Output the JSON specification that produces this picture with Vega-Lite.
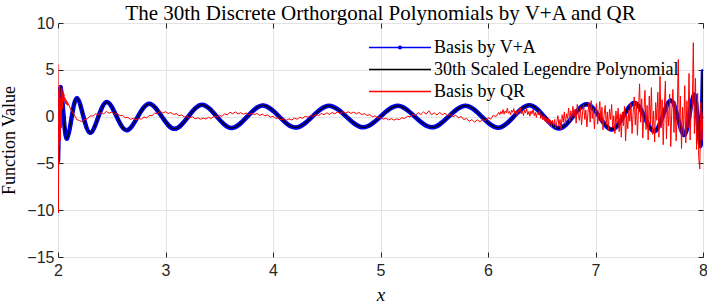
{
  "$schema": "https://vega.github.io/schema/vega-lite/v6.json",
  "autosize": {"type": "none"},
  "padding": {"left": 58, "top": 23, "right": 4, "bottom": 49},
  "width": 645,
  "height": 234,
  "background": "white",
  "title": {"text": "The 30th Discrete Orthorgonal Polynomials by V+A and QR", "font": "Liberation Serif", "fontSize": 21, "fontWeight": "normal", "color": "#000000", "anchor": "middle", "offset": 5, "baseline": "alphabetic", "dy": 31},
  "config": {
    "view": {"stroke": "#262626", "strokeWidth": 1},
    "axis": {"labelFont": "Liberation Sans", "labelFontSize": 16, "labelColor": "#262626", "tickColor": "#262626", "gridColor": "#e3e3e3", "gridWidth": 1, "domain": false, "tickSize": -5, "titleFont": "Liberation Serif", "titleFontWeight": "normal", "titleColor": "#000000", "titleFontSize": 18, "labelFlush": false}
  },
  "datasets": {
    "leg": [
      {"x": 2, "y": -4.8}, {"x": 2.01, "y": 0}, {"x": 2.0253, "y": 3.15}, {"x": 2.0524, "y": 0}, {"x": 2.0844, "y": -2.35}, {"x": 2.1282, "y": 0}, {"x": 2.1767, "y": 1.97}, {"x": 2.2365, "y": 0}, {"x": 2.3009, "y": -1.73}, {"x": 2.3761, "y": 0}, {"x": 2.4555, "y": 1.57}, {"x": 2.5455, "y": 0}, {"x": 2.6392, "y": -1.46}, {"x": 2.7427, "y": 0}, {"x": 2.8494, "y": 1.37}, {"x": 2.9657, "y": 0}, {"x": 3.0842, "y": -1.31}, {"x": 3.2114, "y": 0}, {"x": 3.3404, "y": 1.26}, {"x": 3.4774, "y": 0}, {"x": 3.6158, "y": -1.22}, {"x": 3.7607, "y": 0}, {"x": 3.9064, "y": 1.19}, {"x": 4.0581, "y": 0}, {"x": 4.2097, "y": -1.17}, {"x": 4.3662, "y": 0}, {"x": 4.5217, "y": 1.15}, {"x": 4.6814, "y": 0}, {"x": 4.8396, "y": -1.15}, {"x": 5, "y": 0}, {"x": 5.1604, "y": 1.15}, {"x": 5.3186, "y": 0}, {"x": 5.4783, "y": -1.15}, {"x": 5.6338, "y": 0}, {"x": 5.7903, "y": 1.17}, {"x": 5.9419, "y": 0}, {"x": 6.0936, "y": -1.19}, {"x": 6.2393, "y": 0}, {"x": 6.3842, "y": 1.22}, {"x": 6.5226, "y": 0}, {"x": 6.6596, "y": -1.26}, {"x": 6.7886, "y": 0}, {"x": 6.9158, "y": 1.31}, {"x": 7.0345, "y": 0}, {"x": 7.1506, "y": -1.37}, {"x": 7.2573, "y": 0}, {"x": 7.3608, "y": 1.46}, {"x": 7.4545, "y": 0}, {"x": 7.5445, "y": -1.57}, {"x": 7.6239, "y": 0}, {"x": 7.6991, "y": 1.73}, {"x": 7.7635, "y": 0}, {"x": 7.8233, "y": -1.97}, {"x": 7.8718, "y": 0}, {"x": 7.9156, "y": 2.35}, {"x": 7.9476, "y": 0}, {"x": 7.9747, "y": -3.15}, {"x": 7.99, "y": 0}, {"x": 8, "y": 4.9}
    ],
    "qr": [
      {"x": 2.000, "y": 5.6}, {"x": 2.004, "y": -10.3}, {"x": 2.008, "y": 2.8}, {"x": 2.012, "y": -3.1}, {"x": 2.016, "y": 3.3}, {"x": 2.020, "y": -2.6}, {"x": 2.025, "y": 2.0}, {"x": 2.030, "y": -1.2}, {"x": 2.035, "y": 3.0}, {"x": 2.040, "y": 0.8}, {"x": 2.045, "y": 2.6}, {"x": 2.050, "y": 1.6}, {"x": 2.055, "y": 2.4}, {"x": 2.060, "y": 1.7}, {"x": 2.065, "y": 2.0}, {"x": 2.070, "y": 1.4}, {"x": 2.075, "y": 1.8}, {"x": 2.080, "y": 1.3}, {"x": 2.085, "y": 1.6}, {"x": 2.090, "y": 1.2}, {"x": 2.095, "y": 1.4},
      {"x": 2.100, "y": 1.25}, {"x": 2.125, "y": 0.62}, {"x": 2.150, "y": 0.2}, {"x": 2.175, "y": -0.32}, {"x": 2.200, "y": -0.42}, {"x": 2.225, "y": -0.55}, {"x": 2.250, "y": -0.3}, {"x": 2.275, "y": -0.22}, {"x": 2.300, "y": 0.08}, {"x": 2.325, "y": 0.06}, {"x": 2.350, "y": 0.3}, {"x": 2.375, "y": 0.18}, {"x": 2.400, "y": 0.42}, {"x": 2.425, "y": 0.3}, {"x": 2.450, "y": 0.55}, {"x": 2.475, "y": 0.36}, {"x": 2.500, "y": 0.48}, {"x": 2.525, "y": 0.25}, {"x": 2.550, "y": 0.33}, {"x": 2.575, "y": 0.1}, {"x": 2.600, "y": 0.12}, {"x": 2.625, "y": -0.12}, {"x": 2.650, "y": -0.08}, {"x": 2.675, "y": -0.3}, {"x": 2.700, "y": -0.18}, {"x": 2.725, "y": -0.35}, {"x": 2.750, "y": -0.2}, {"x": 2.775, "y": -0.28}, {"x": 2.800, "y": -0.05}, {"x": 2.825, "y": -0.14}, {"x": 2.850, "y": 0.12}, {"x": 2.875, "y": 0.1}, {"x": 2.900, "y": 0.38}, {"x": 2.925, "y": 0.3}, {"x": 2.950, "y": 0.56}, {"x": 2.975, "y": 0.38}, {"x": 3.000, "y": 0.52}, {"x": 3.025, "y": 0.33}, {"x": 3.050, "y": 0.44}, {"x": 3.075, "y": 0.22}, {"x": 3.100, "y": 0.32}, {"x": 3.125, "y": 0.1}, {"x": 3.150, "y": 0.18}, {"x": 3.175, "y": -0.04}, {"x": 3.200, "y": 0.07}, {"x": 3.225, "y": -0.13}, {"x": 3.250, "y": -0.02}, {"x": 3.275, "y": -0.24}, {"x": 3.300, "y": -0.12}, {"x": 3.325, "y": -0.28}, {"x": 3.350, "y": -0.15}, {"x": 3.375, "y": -0.26}, {"x": 3.400, "y": -0.08}, {"x": 3.425, "y": -0.2}, {"x": 3.450, "y": 0.04}, {"x": 3.475, "y": -0.06}, {"x": 3.500, "y": 0.14}, {"x": 3.525, "y": 0.03}, {"x": 3.550, "y": 0.3}, {"x": 3.575, "y": 0.18}, {"x": 3.600, "y": 0.48}, {"x": 3.625, "y": 0.3}, {"x": 3.650, "y": 0.5}, {"x": 3.675, "y": 0.28}, {"x": 3.700, "y": 0.42}, {"x": 3.725, "y": 0.25}, {"x": 3.750, "y": 0.38}, {"x": 3.775, "y": 0.2}, {"x": 3.800, "y": 0.36}, {"x": 3.825, "y": 0.22}, {"x": 3.850, "y": 0.33}, {"x": 3.875, "y": 0.12}, {"x": 3.900, "y": 0.27}, {"x": 3.925, "y": 0.08}, {"x": 3.950, "y": 0.18}, {"x": 3.975, "y": -0.06}, {"x": 4.000, "y": 0.03}, {"x": 4.025, "y": -0.2}, {"x": 4.050, "y": -0.12}, {"x": 4.075, "y": -0.34}, {"x": 4.100, "y": -0.22}, {"x": 4.125, "y": -0.38}, {"x": 4.150, "y": -0.24}, {"x": 4.175, "y": -0.36}, {"x": 4.200, "y": -0.16}, {"x": 4.225, "y": -0.28}, {"x": 4.250, "y": -0.08}, {"x": 4.275, "y": -0.18}, {"x": 4.300, "y": 0.04}, {"x": 4.325, "y": -0.07}, {"x": 4.350, "y": 0.12}, {"x": 4.375, "y": 0.02}, {"x": 4.400, "y": 0.24}, {"x": 4.425, "y": 0.12}, {"x": 4.450, "y": 0.34}, {"x": 4.475, "y": 0.2}, {"x": 4.500, "y": 0.4}, {"x": 4.525, "y": 0.24}, {"x": 4.550, "y": 0.44}, {"x": 4.575, "y": 0.3}, {"x": 4.600, "y": 0.5}, {"x": 4.625, "y": 0.34}, {"x": 4.650, "y": 0.55}, {"x": 4.675, "y": 0.36}, {"x": 4.700, "y": 0.52}, {"x": 4.725, "y": 0.34}, {"x": 4.750, "y": 0.48}, {"x": 4.775, "y": 0.3}, {"x": 4.800, "y": 0.44}, {"x": 4.825, "y": 0.22}, {"x": 4.850, "y": 0.32}, {"x": 4.875, "y": 0.12}, {"x": 4.900, "y": 0.22}, {"x": 4.925, "y": -0.02}, {"x": 4.950, "y": 0.08}, {"x": 4.975, "y": -0.16}, {"x": 5.000, "y": -0.06}, {"x": 5.025, "y": -0.28}, {"x": 5.050, "y": -0.18}, {"x": 5.075, "y": -0.36}, {"x": 5.100, "y": -0.22}, {"x": 5.125, "y": -0.38}, {"x": 5.150, "y": -0.24}, {"x": 5.175, "y": -0.32}, {"x": 5.200, "y": -0.12}, {"x": 5.225, "y": -0.2}, {"x": 5.250, "y": 0.04}, {"x": 5.275, "y": -0.03}, {"x": 5.300, "y": 0.24}, {"x": 5.325, "y": 0.12}, {"x": 5.350, "y": 0.42}, {"x": 5.375, "y": 0.22}, {"x": 5.400, "y": 0.5}, {"x": 5.425, "y": 0.26}, {"x": 5.450, "y": 0.62}, {"x": 5.475, "y": 0.2}, {"x": 5.500, "y": 0.4}, {"x": 5.525, "y": 0.18}, {"x": 5.550, "y": 0.45}, {"x": 5.575, "y": 0.2}, {"x": 5.600, "y": 0.36}, {"x": 5.625, "y": 0.08}, {"x": 5.650, "y": 0.28}, {"x": 5.675, "y": -0.02}, {"x": 5.700, "y": 0.16}, {"x": 5.725, "y": -0.14}, {"x": 5.750, "y": 0.02}, {"x": 5.775, "y": -0.34}, {"x": 5.800, "y": -0.18}, {"x": 5.825, "y": -0.52}, {"x": 5.850, "y": -0.32}, {"x": 5.875, "y": -0.6}, {"x": 5.900, "y": -0.34}, {"x": 5.925, "y": -0.56}, {"x": 5.950, "y": -0.28}, {"x": 5.975, "y": -0.45}, {"x": 6.000, "y": -0.1}, {"x": 6.025, "y": -0.28}, {"x": 6.050, "y": 0.15}, {"x": 6.075, "y": 0.0}, {"x": 6.100, "y": 0.45},
      {"x": 6.11, "y": 0.2}, {"x": 6.12, "y": 0.55}, {"x": 6.13, "y": 0.3}, {"x": 6.14, "y": 0.75}, {"x": 6.15, "y": 0.25}, {"x": 6.16, "y": 0.6}, {"x": 6.17, "y": 0.4}, {"x": 6.18, "y": 0.9}, {"x": 6.19, "y": 0.35}, {"x": 6.20, "y": 0.55}, {"x": 6.21, "y": 0.2}, {"x": 6.22, "y": 0.7}, {"x": 6.23, "y": 0.45}, {"x": 6.24, "y": 0.85}, {"x": 6.25, "y": 0.3}, {"x": 6.26, "y": 0.6}, {"x": 6.27, "y": 0.15}, {"x": 6.28, "y": 0.75}, {"x": 6.29, "y": 0.5}, {"x": 6.30, "y": 0.95}, {"x": 6.31, "y": 0.3}, {"x": 6.32, "y": 0.6}, {"x": 6.33, "y": 0.1}, {"x": 6.34, "y": 0.7}, {"x": 6.35, "y": 0.4}, {"x": 6.36, "y": 0.85}, {"x": 6.37, "y": 0.2}, {"x": 6.38, "y": 0.55}, {"x": 6.39, "y": 0.05}, {"x": 6.40, "y": 0.6}, {"x": 6.41, "y": 0.3}, {"x": 6.42, "y": 0.8}, {"x": 6.43, "y": 0.1}, {"x": 6.44, "y": 0.45}, {"x": 6.45, "y": -0.1}, {"x": 6.46, "y": 0.5}, {"x": 6.47, "y": 0.2}, {"x": 6.48, "y": 0.65}, {"x": 6.49, "y": -0.2}, {"x": 6.50, "y": 0.25}, {"x": 6.51, "y": -0.35}, {"x": 6.52, "y": 0.1}, {"x": 6.53, "y": -0.5}, {"x": 6.54, "y": -0.1}, {"x": 6.55, "y": -0.7}, {"x": 6.56, "y": -0.2}, {"x": 6.57, "y": -0.9}, {"x": 6.58, "y": -0.35}, {"x": 6.59, "y": -1.1}, {"x": 6.60, "y": -0.4}, {"x": 6.61, "y": -0.95}, {"x": 6.62, "y": -0.3}, {"x": 6.63, "y": -1.2}, {"x": 6.64, "y": -0.6}, {"x": 6.65, "y": 0.1}, {"x": 6.66, "y": -1.0}, {"x": 6.67, "y": -0.3}, {"x": 6.68, "y": -1.4}, {"x": 6.69, "y": 0.2}, {"x": 6.70, "y": -0.6}, {"x": 6.71, "y": 0.5}, {"x": 6.72, "y": -0.8}, {"x": 6.73, "y": 0.3}, {"x": 6.74, "y": -0.2}, {"x": 6.75, "y": 0.9}, {"x": 6.76, "y": -0.5}, {"x": 6.77, "y": 0.6}, {"x": 6.78, "y": -0.1}, {"x": 6.79, "y": 1.1}, {"x": 6.80, "y": 0.0}, {"x": 6.81, "y": 0.8}, {"x": 6.82, "y": -0.7}, {"x": 6.83, "y": 1.3}, {"x": 6.84, "y": 0.2}, {"x": 6.85, "y": -0.4}, {"x": 6.86, "y": 1.0}, {"x": 6.87, "y": -0.9}, {"x": 6.88, "y": 0.5}, {"x": 6.89, "y": 1.2}, {"x": 6.90, "y": -0.3}, {"x": 6.91, "y": 0.7}, {"x": 6.92, "y": -1.1}, {"x": 6.93, "y": 0.4}, {"x": 6.94, "y": 1.5}, {"x": 6.95, "y": -0.6}, {"x": 6.96, "y": 1.7}, {"x": 6.97, "y": -0.2}, {"x": 6.98, "y": 0.9}, {"x": 6.99, "y": -1.3}, {"x": 7.00, "y": 0.6}, {"x": 7.01, "y": 1.4}, {"x": 7.02, "y": -0.8}, {"x": 7.03, "y": 0.3}, {"x": 7.04, "y": 1.6}, {"x": 7.05, "y": -0.5}, {"x": 7.06, "y": 1.0}, {"x": 7.07, "y": -1.4}, {"x": 7.08, "y": 0.2}, {"x": 7.09, "y": 1.2}, {"x": 7.10, "y": -0.9}, {"x": 7.11, "y": 0.5}, {"x": 7.12, "y": -1.5}, {"x": 7.13, "y": 0.8}, {"x": 7.14, "y": -0.3}, {"x": 7.15, "y": 1.3}, {"x": 7.16, "y": -1.2}, {"x": 7.17, "y": 0.1}, {"x": 7.18, "y": -1.8}, {"x": 7.19, "y": 0.6}, {"x": 7.20, "y": -0.7}, {"x": 7.21, "y": 0.9}, {"x": 7.22, "y": -1.6}, {"x": 7.23, "y": 0.3}, {"x": 7.24, "y": -2.2}, {"x": 7.25, "y": 0.5}, {"x": 7.26, "y": -1.0}, {"x": 7.27, "y": 1.1}, {"x": 7.28, "y": -2.6}, {"x": 7.29, "y": 0.2}, {"x": 7.30, "y": -1.3}, {"x": 7.31, "y": 0.7}, {"x": 7.32, "y": -0.5}, {"x": 7.33, "y": 1.4}, {"x": 7.34, "y": -1.8}, {"x": 7.35, "y": 0.4}, {"x": 7.36, "y": 2.1}, {"x": 7.37, "y": -0.9}, {"x": 7.38, "y": 1.6}, {"x": 7.39, "y": -2.0}, {"x": 7.40, "y": 0.8}, {"x": 7.41, "y": 3.5}, {"x": 7.42, "y": -0.6}, {"x": 7.43, "y": 1.9}, {"x": 7.44, "y": -2.3}, {"x": 7.45, "y": 0.5}, {"x": 7.46, "y": 2.8}, {"x": 7.47, "y": -1.4}, {"x": 7.48, "y": 1.2}, {"x": 7.49, "y": -2.5}, {"x": 7.50, "y": 2.2}, {"x": 7.51, "y": -0.8}, {"x": 7.52, "y": 3.1}, {"x": 7.53, "y": -1.9}, {"x": 7.54, "y": 0.6}, {"x": 7.55, "y": -2.7}, {"x": 7.56, "y": 1.5}, {"x": 7.57, "y": -0.4}, {"x": 7.58, "y": 2.6}, {"x": 7.59, "y": -2.2}, {"x": 7.60, "y": 4.3}, {"x": 7.61, "y": -1.2}, {"x": 7.62, "y": 1.8}, {"x": 7.63, "y": -3.0}, {"x": 7.64, "y": 0.9}, {"x": 7.65, "y": 3.8}, {"x": 7.66, "y": -2.4}, {"x": 7.67, "y": 1.3}, {"x": 7.68, "y": -1.0}, {"x": 7.69, "y": 2.4}, {"x": 7.70, "y": -3.2}, {"x": 7.71, "y": 0.7}, {"x": 7.72, "y": 2.9}, {"x": 7.73, "y": -1.7}, {"x": 7.74, "y": 1.6}, {"x": 7.75, "y": -2.6}, {"x": 7.76, "y": 0.4}, {"x": 7.77, "y": 6.1}, {"x": 7.78, "y": -1.5}, {"x": 7.79, "y": 2.2}, {"x": 7.80, "y": -3.4}, {"x": 7.81, "y": 1.0}, {"x": 7.82, "y": -2.0}, {"x": 7.83, "y": 3.3}, {"x": 7.84, "y": -2.8}, {"x": 7.85, "y": 1.7}, {"x": 7.86, "y": -1.2}, {"x": 7.87, "y": 4.6}, {"x": 7.88, "y": -2.5}, {"x": 7.89, "y": 0.8}, {"x": 7.90, "y": 1.0}, {"x": 7.91, "y": 7.9}, {"x": 7.92, "y": -1.8}, {"x": 7.93, "y": 4.1}, {"x": 7.94, "y": -3.5}, {"x": 7.95, "y": 2.5}, {"x": 7.96, "y": -4.3}, {"x": 7.97, "y": -5.6}, {"x": 7.98, "y": 1.5}, {"x": 7.99, "y": -2.5}, {"x": 8.00, "y": 0.5}
    ]
  },
  "layer": [
    {
      "data": {"name": "leg"},
      "mark": {"type": "line", "interpolate": "natural", "strokeWidth": 4.5, "clip": true},
      "encoding": {
        "x": {"field": "x", "type": "quantitative", "scale": {"domain": [2, 8], "nice": false, "zero": false},
              "axis": {"orient": "bottom", "values": [2, 3, 4, 5, 6, 7, 8], "grid": true, "labelPadding": 10, "title": "x", "titleFontStyle": "italic", "titleFontSize": 19, "titlePadding": 7}},
        "y": {"field": "y", "type": "quantitative", "scale": {"domain": [-15, 10], "nice": false, "zero": false},
              "axis": {"orient": "left", "values": [-15, -10, -5, 0, 5, 10], "grid": true, "labelPadding": 9, "title": "Function Value", "titlePadding": 8}},
        "color": {"datum": "Basis by V+A", "type": "nominal",
                  "scale": {"domain": ["Basis by V+A", "30th Scaled Legendre Polynomial", "Basis by QR"], "range": ["#0000f0", "#000000", "#ff0000"]},
                  "legend": {"title": null, "orient": "none", "legendX": 310, "legendY": 15.5, "labelFont": "Liberation Serif", "labelFontSize": 18, "labelColor": "#000000",
                             "symbolType": "M-10,0H10", "symbolSize": 38.44, "symbolStrokeWidth": 1.3, "symbolOffset": 23, "labelOffset": 25, "rowPadding": 4, "labelLimit": 400, "padding": 0,
                             "encode": {"symbols": {"update": {"shape": {"signal": "datum.value === 'Basis by V+A' ? 'M-10,0H10M0.45,0A0.45,0.45,0,1,1,-0.45,0A0.45,0.45,0,1,1,0.45,0' : 'M-10,0H10'"}}}}}}
      }
    },
    {
      "data": {"name": "leg"},
      "mark": {"type": "point", "filled": true, "size": 14, "opacity": 1, "clip": true},
      "encoding": {
        "x": {"field": "x", "type": "quantitative", "axis": null},
        "y": {"field": "y", "type": "quantitative", "axis": null},
        "color": {"value": "#0000f0"}
      }
    },
    {
      "data": {"name": "leg"},
      "mark": {"type": "line", "interpolate": "natural", "strokeWidth": 1.2, "clip": true},
      "encoding": {
        "x": {"field": "x", "type": "quantitative", "axis": null},
        "y": {"field": "y", "type": "quantitative", "axis": null},
        "color": {"datum": "30th Scaled Legendre Polynomial", "type": "nominal"}
      }
    },
    {
      "data": {"name": "qr"},
      "mark": {"type": "line", "strokeWidth": 1, "clip": true},
      "encoding": {
        "x": {"field": "x", "type": "quantitative",
              "axis": {"orient": "top", "values": [2, 3, 4, 5, 6, 7, 8], "grid": false, "labels": false, "title": null}},
        "y": {"field": "y", "type": "quantitative",
              "axis": {"orient": "right", "values": [-15, -10, -5, 0, 5, 10], "grid": false, "labels": false, "title": null}},
        "color": {"datum": "Basis by QR", "type": "nominal"}
      }
    }
  ]
}
